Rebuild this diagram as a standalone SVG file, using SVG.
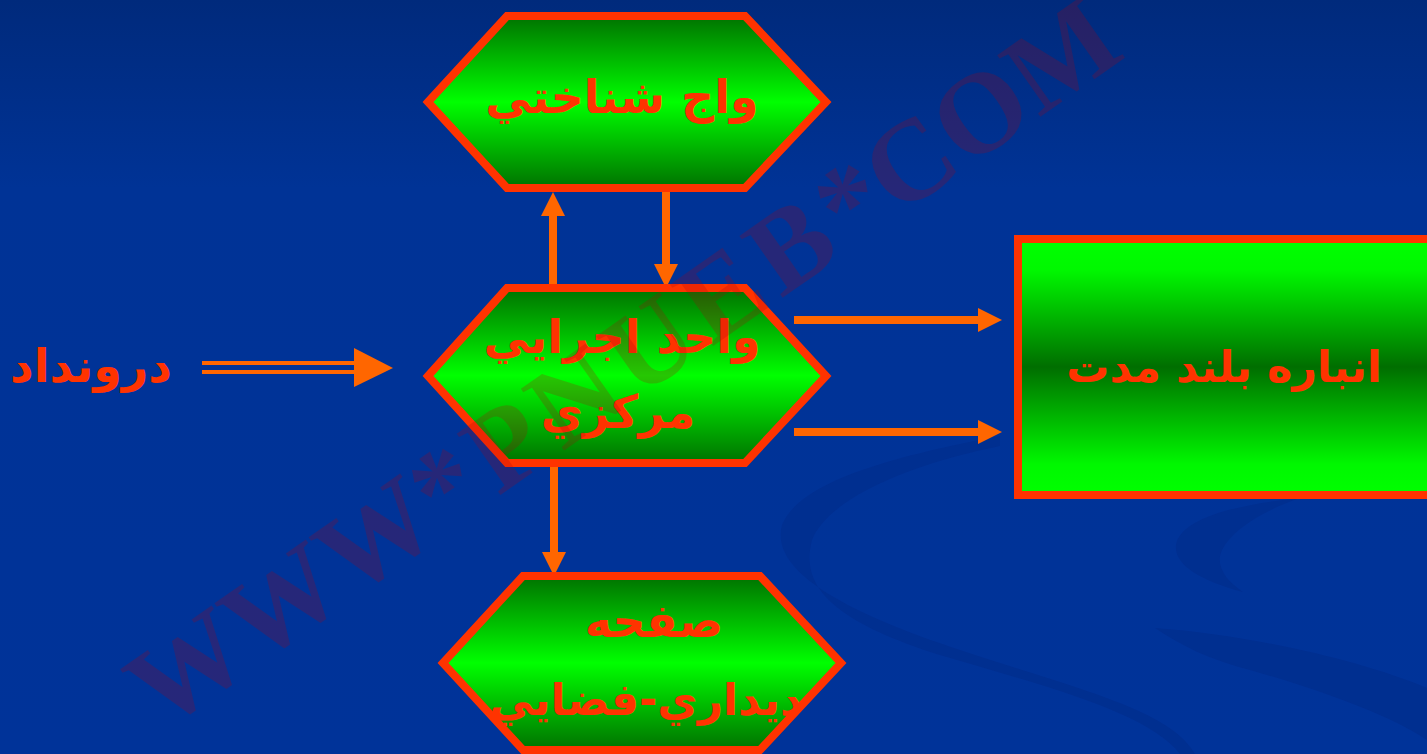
<svg xmlns="http://www.w3.org/2000/svg" width="1427" height="754" viewBox="0 0 1427 754">
  <defs>
    <linearGradient id="bg" x1="0" y1="0" x2="0" y2="1">
      <stop offset="0" stop-color="#002a7c"/>
      <stop offset="0.25" stop-color="#003396"/>
      <stop offset="1" stop-color="#003399"/>
    </linearGradient>
    <linearGradient id="hexFill" x1="0" y1="0" x2="0" y2="1">
      <stop offset="0" stop-color="#007200"/>
      <stop offset="0.5" stop-color="#00ff00"/>
      <stop offset="1" stop-color="#007200"/>
    </linearGradient>
    <linearGradient id="rectFill" x1="0" y1="0" x2="0" y2="1">
      <stop offset="0" stop-color="#00ff00"/>
      <stop offset="0.12" stop-color="#00f800"/>
      <stop offset="0.5" stop-color="#006e00"/>
      <stop offset="0.88" stop-color="#00f800"/>
      <stop offset="1" stop-color="#00ff00"/>
    </linearGradient>
    <marker id="head" markerUnits="userSpaceOnUse" markerWidth="24" markerHeight="24" refX="0" refY="12" orient="auto">
      <path d="M0,0 L24,12 L0,24 Z" fill="#ff6600"/>
    </marker>
    <style>
      .shape { stroke: #ff3300; stroke-width: 8; stroke-linejoin: miter; }
      .hex { fill: url(#hexFill); }
      .box { fill: url(#rectFill); }
      .lbl { font-family: "DejaVu Sans", "Noto Sans", sans-serif; font-weight: bold; fill: #ff3300; text-anchor: middle; }
      .conn { stroke: #ff6600; stroke-width: 8; fill: none; }
      .thin { stroke: #ff6600; stroke-width: 4; fill: none; }
      .swoosh { fill: #002f90; }
      .wm { font-family: "Liberation Serif", "Times New Roman", serif; font-weight: bold; font-size: 115px; fill: #ac000c; fill-opacity: 0.22; }
    </style>
  </defs>

  <!-- background -->
  <rect x="0" y="0" width="1427" height="754" fill="url(#bg)"/>
  <g id="background-swooshes">
    <path class="swoosh" d="M1000,436 C900,455 800,480 782,525 C770,570 840,610 960,650 C1080,690 1170,710 1195,754 L1180,754 C1150,715 1060,690 940,655 C830,620 800,585 812,540 C830,495 920,462 1000,446 Z"/>
    <path class="swoosh" d="M1300,498 C1230,505 1180,520 1176,545 C1174,565 1200,580 1243,592 C1225,580 1215,565 1222,550 C1232,530 1260,512 1300,498 Z"/>
    <path class="swoosh" d="M1155,628 C1250,635 1360,660 1427,688 L1427,740 C1390,715 1320,690 1250,670 C1210,660 1180,645 1155,628 Z"/>
  </g>

  <!-- connectors -->
  <g id="connectors">
    <line class="conn" x1="553" y1="288" x2="553" y2="216" marker-end="url(#head)"/>
    <line class="conn" x1="666" y1="192" x2="666" y2="264" marker-end="url(#head)"/>
    <line class="conn" x1="554" y1="463" x2="554" y2="552" marker-end="url(#head)"/>
    <line class="conn" x1="794" y1="320" x2="978" y2="320" marker-end="url(#head)"/>
    <line class="conn" x1="794" y1="432" x2="978" y2="432" marker-end="url(#head)"/>
    <g id="input-arrow">
      <line class="thin" x1="202" y1="363" x2="356" y2="363"/>
      <line class="thin" x1="202" y1="372" x2="356" y2="372"/>
      <path d="M354,348 L393,368 L354,387 Z" fill="#ff6600"/>
    </g>
  </g>

  <!-- nodes -->
  <g id="node-input">
    <text class="lbl" x="91" y="382" font-size="46">درونداد</text>
  </g>

  <g id="node-sensory-register">
    <polygon class="shape hex" points="428,102 507,16 745,16 826,102 745,188 507,188"/>
    <text class="lbl" x="622" y="113" font-size="46">واج شناختي</text>
  </g>

  <g id="node-central-executive">
    <polygon class="shape hex" points="428,376 507,288 745,288 826,376 745,463 507,463"/>
    <text class="lbl" x="622" y="353" font-size="46">واحد اجرايي</text>
    <text class="lbl" x="618" y="428" font-size="46">مركزي</text>
  </g>

  <g id="node-visuospatial">
    <polygon class="shape hex" points="443,663 523,576 760,576 841,663 760,750 523,750"/>
    <text class="lbl" x="654" y="637" font-size="46">صفحه</text>
    <text class="lbl" x="646" y="715" font-size="44">ديداري-فضايي</text>
  </g>

  <g id="node-long-term-memory">
    <rect class="shape box" x="1018" y="239" width="430" height="256"/>
    <text class="lbl" x="1224" y="382" font-size="43">انباره بلند مدت</text>
  </g>

  <!-- watermark -->
  <g id="watermark">
    <text class="wm" x="162" y="732" transform="rotate(-35 162 732)">WWW<tspan letter-spacing="8">*PNUEB</tspan>*COM</text>
  </g>
</svg>
